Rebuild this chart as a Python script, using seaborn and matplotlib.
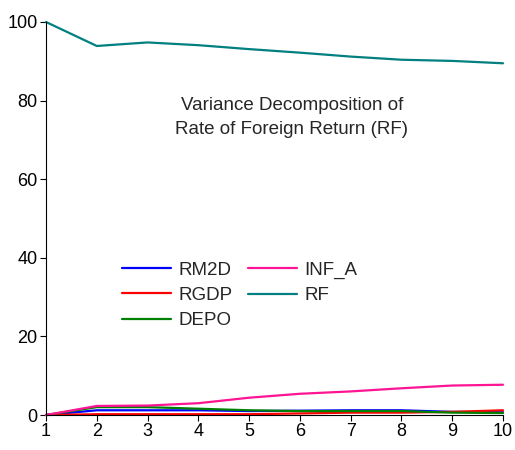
import pandas as pd
import seaborn as sns
import matplotlib.pyplot as plt

# periods and variance decomposition shares (%)
periods = list(range(1, 11))
rm2d = [0.0, 1.2, 1.2, 1.2, 1.0, 1.1, 1.2, 1.2, 0.8, 0.7]
rgdp = [0.0, 0.2, 0.2, 0.2, 0.2, 0.4, 0.6, 0.6, 0.8, 1.2]
depo = [0.0, 2.0, 2.0, 1.6, 1.2, 1.0, 1.0, 1.0, 0.6, 0.5]
inf_a = [0.0, 2.3, 2.4, 3.0, 4.4, 5.4, 6.0, 6.8, 7.5, 7.7]
rf = [100.0, 93.9, 94.8, 94.1, 93.1, 92.2, 91.2, 90.4, 90.1, 89.5]

series = ['RM2D', 'RGDP', 'DEPO', 'INF_A', 'RF']
colors = ['#0000ff', '#ff0000', '#008000', '#ff1493', '#008080']

df = pd.DataFrame({'period': periods, 'RM2D': rm2d, 'RGDP': rgdp,
                   'DEPO': depo, 'INF_A': inf_a, 'RF': rf})
long = df.melt(id_vars='period', var_name='series', value_name='value')

sns.set_style('ticks')
plt.rcParams['font.family'] = ['Liberation Sans', 'DejaVu Sans']

fig = plt.figure(figsize=(5.15, 4.5), dpi=100)
ax = fig.add_axes([46 / 515, 35 / 450, 457 / 515, 393 / 450])

sns.lineplot(data=long, x='period', y='value', hue='series',
             hue_order=series, palette=colors, linewidth=1.6, ax=ax)

ax.set_xlim(1, 10)
ax.set_ylim(0, 100)
ax.set_xticks(periods)
ax.set_yticks([0, 20, 40, 60, 80, 100])
ax.set_xlabel('')
ax.set_ylabel('')
ax.tick_params(labelsize=13, length=4, width=0.8, colors='black', pad=2)
sns.despine(ax=ax)
for s in ['left', 'bottom']:
    ax.spines[s].set_linewidth(0.8)
    ax.spines[s].set_color('black')
for ln in ax.get_lines():
    ln.set_clip_on(False)

ax.text(0.538, 0.757, 'Variance Decomposition of\nRate of Foreign Return (RF)',
        transform=ax.transAxes, ha='center', va='center', fontsize=13.5,
        linespacing=1.55)

ax.legend(ncol=2, frameon=False, fontsize=13.5, loc='upper left',
          bbox_to_anchor=(0.166, 0.39), borderpad=0, borderaxespad=0,
          handlelength=2.6, columnspacing=0.85, labelspacing=0.43,
          handletextpad=0.4)

plt.savefig('out.png', dpi=100)
